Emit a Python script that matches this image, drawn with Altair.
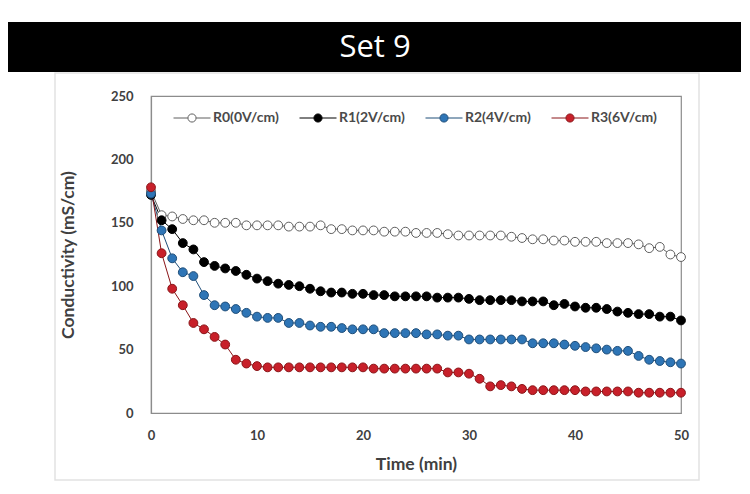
import altair as alt
import pandas as pd

title_text = "Set 9"
x_title = "Time (min)"
y_title = "Conductivity (mS/cm)"

time_min = list(range(51))
series_names = ["R0(0V/cm)", "R1(2V/cm)", "R2(4V/cm)", "R3(6V/cm)"]

r0 = [175, 156, 155, 153, 152, 152, 150, 150, 150, 148, 148, 148, 148, 147, 147, 147, 148,
      145, 145, 144, 144, 144, 143, 143, 143, 142, 142, 142, 141, 140, 140, 140, 140, 140,
      139, 138, 137, 137, 136, 136, 135, 135, 135, 134, 134, 134, 133, 130, 131, 125, 123]
r1 = [172, 152, 145, 134, 129, 119, 116, 114, 112, 109, 106, 104, 102, 101, 100, 98, 96,
      95, 95, 94, 94, 93, 93, 92, 92, 92, 92, 91, 91, 91, 90, 89, 89, 89, 89, 88, 88, 88,
      85, 86, 84, 83, 83, 82, 80, 79, 78, 78, 76, 76, 73]
r2 = [173, 144, 122, 111, 108, 93, 85, 84, 82, 79, 76, 75, 75, 71, 71, 69, 68, 68, 67, 66,
      66, 66, 63, 63, 63, 63, 62, 62, 61, 61, 58, 58, 58, 58, 58, 58, 55, 55, 55, 54, 53,
      52, 51, 50, 49, 49, 45, 42, 41, 40, 39]
r3 = [178, 126, 98, 85, 71, 66, 60, 54, 42, 39, 37,
      36, 36, 36, 36, 36, 36, 36, 36, 36, 36,
      35, 35, 35, 35, 35, 35, 35,
      32, 32, 31, 27, 21, 22, 21, 19,
      18, 18, 18, 18, 18,
      17, 17, 17, 17, 17,
      16, 16, 16, 16, 16]

fills = ["#ffffff", "#000000", "#2e75b6", "#c8202a"]
strokes = ["#5f5f5f", "#000000", "#1f4e79", "#8a1518"]

rows = []
for name, vals in zip(series_names, [r0, r1, r2, r3]):
    for t, v in zip(time_min, vals):
        rows.append({"t": t, "v": v, "series": name})
df = pd.DataFrame(rows)

W, H = 530, 317
FONT = "Lato"

x_enc = alt.X("t:Q", scale=alt.Scale(domain=[0, 50], nice=False),
              axis=alt.Axis(title=x_title, values=[0, 10, 20, 30, 40, 50], grid=False,
                            ticks=False, labelFlush=False, labelPadding=16, titlePadding=13,
                            labelFont=FONT, labelFontSize=13, labelFontWeight="bold",
                            labelColor="#404040", titleFont=FONT, titleFontSize=17.5,
                            titleFontWeight="bold", titleColor="#404040",
                            domainColor="#8c8c8c", domainWidth=1.2))
y_enc = alt.Y("v:Q", scale=alt.Scale(domain=[0, 250], nice=False),
              axis=alt.Axis(title=y_title, values=[0, 50, 100, 150, 200, 250], grid=False,
                            ticks=False, labelFlush=False, labelPadding=18, titleX=-74,
                            titleY=H / 2,
                            labelFont=FONT, labelFontSize=13, labelFontWeight="bold",
                            labelColor="#404040", titleFont=FONT, titleFontSize=17.5,
                            titleFontWeight="bold", titleColor="#404040",
                            domainColor="#8c8c8c", domainWidth=1.2))

sym_path = ("M-1,0H-0.22M0.22,0H1M0.22,0A0.22,0.22,0,1,1,-0.22,0"
            "A0.22,0.22,0,1,1,0.22,0Z")
legend = alt.Legend(title=None, orient="none", legendX=22, legendY=3, direction="horizontal",
                    columns=4, symbolType=sym_path, symbolSize=1369, symbolStrokeWidth=1,
                    symbolOpacity=1,
                    labelFont=FONT, labelFontSize=14, labelFontWeight="bold",
                    labelColor="#4a4a4a", labelOffset=2, columnPadding=18)

stroke_scale = alt.Scale(domain=series_names, range=strokes)
fill_scale = alt.Scale(domain=series_names, range=fills)

lines = alt.Chart(df).mark_line(strokeWidth=1).encode(
    x=x_enc, y=y_enc,
    stroke=alt.Stroke("series:N", scale=stroke_scale, legend=legend),
    order="t:Q",
)

points = alt.Chart(df).mark_point(shape="circle", size=78, strokeWidth=1, fillOpacity=1,
                                  opacity=1).encode(
    x="t:Q", y="v:Q",
    fill=alt.Fill("series:N", scale=fill_scale, legend=legend),
    stroke=alt.Stroke("series:N", scale=stroke_scale, legend=legend),
)

deco = pd.DataFrame({"label": [title_text]})
bar = alt.Chart(deco).mark_rect(color="#000000").encode(
    x=alt.value(-146), x2=alt.value(600), y=alt.value(-74), y2=alt.value(-24))
title = alt.Chart(deco).mark_text(color="#ffffff", font="Open Sans", fontSize=31,
                                  align="center", baseline="middle").encode(
    x=alt.value(224), y=alt.value(-48), text="label:N")
frame = alt.Chart(deco).mark_rect(fill=None, stroke="#e2e2e2", strokeWidth=1.5).encode(
    x=alt.value(-96), x2=alt.value(548), y=alt.value(-23), y2=alt.value(384))

chart = alt.layer(frame, bar, title, lines, points).properties(
    width=W, height=H,
    autosize=alt.AutoSizeParams(type="none"),
    padding={"left": 143, "top": 88, "right": 60, "bottom": 72},
    background="#ffffff",
).configure_view(stroke="#8c8c8c", strokeWidth=1.2)

chart.save("out.html", embed_options={"renderer": "svg", "actions": False})
